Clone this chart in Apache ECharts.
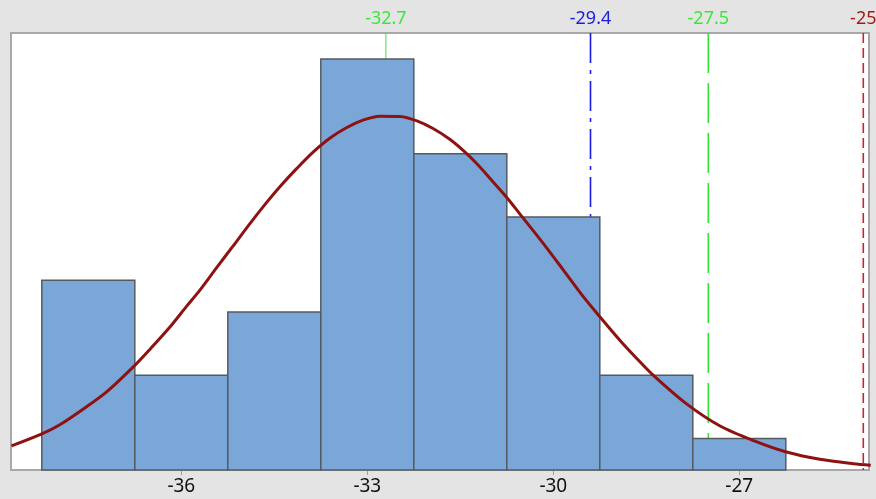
<!DOCTYPE html>
<html>
<head>
<meta charset="utf-8">
<script src="https://cdn.jsdelivr.net/npm/echarts@6/dist/echarts.min.js"></script>
<style>
html,body{margin:0;padding:0;background:#e4e4e4;}
#chart{width:876px;height:499px;}
</style>
</head>
<body>
<div id="chart"></div>
<script>
// Histogram bins (edges) and counts
const binEdges = [-38.25, -36.75, -35.25, -33.75, -32.25, -30.75, -29.25, -27.75, -26.25];
const counts = [6, 3, 5, 13, 10, 8, 3, 1];

// Fitted curve
const curveX = [-38.74, -38.25, -37.96, -37.58, -37.20, -36.75, -36.50, -36.18, -35.91, -35.70, -35.43, -35.17, -34.89, -34.62, -34.41, -34.14, -33.87, -33.60, -33.33, -33.06, -32.80, -32.47, -32.20, -31.94, -31.67, -31.45, -31.24, -31.02, -30.75, -30.54, -30.16, -29.84, -29.52, -29.25, -28.92, -28.65, -28.39, -27.85, -27.31, -26.77, -26.24, -25.70, -25.16, -24.88];
const curveY = [0.76, 1.14, 1.43, 1.93, 2.48, 3.31, 3.83, 4.53, 5.19, 5.69, 6.40, 7.07, 7.80, 8.47, 8.96, 9.53, 10.06, 10.50, 10.83, 11.07, 11.19, 11.18, 11.04, 10.80, 10.46, 10.10, 9.70, 9.22, 8.62, 8.10, 7.16, 6.33, 5.49, 4.85, 4.09, 3.52, 3.00, 2.09, 1.39, 0.93, 0.57, 0.34, 0.20, 0.15];

// Reference lines
const refValues = [-32.7, -29.4, -27.5, -25];
const refLabels = ['-32.7', '-29.4', '-27.5', '-25'];

// X tick labels
const tickValues = [-36, -33, -30, -27];

const refStyles = [
  {color: '#3be63b', labelColor: '#3be63b', dash: null, width: 1},
  {color: '#1c1ce0', labelColor: '#1c1ce0', dash: [30, 7, 4, 7], width: 1.6},
  {color: '#33e633', labelColor: '#3be63b', dash: [40, 10], width: 1.6},
  {color: '#cc2230', labelColor: '#9e1a1a', dash: [10, 5], width: 1.6}
];

const histData = counts.map((c, i) => [binEdges[i], binEdges[i + 1], c]);
const curveData = curveX.map((x, i) => [x, curveY[i]]);
const refData = refValues.map((v, i) => [v, i]);
const Y_MAX = 13.82;

const chart = echarts.init(document.getElementById('chart'));
chart.setOption({
  animation: false,
  backgroundColor: '#e4e4e4',
  textStyle: {fontFamily: 'Noto Sans'},
  grid: {left: 11, right: 7, top: 33, bottom: 29, show: true, backgroundColor: '#ffffff', borderColor: '#a8a8a8', borderWidth: 2},
  xAxis: {
    type: 'value', min: -38.747, max: -24.908,
    axisLine: {show: true, lineStyle: {color: '#a8a8a8', width: 2}},
    axisTick: {show: true, customValues: tickValues, length: 5, lineStyle: {color: '#a0a0a0', width: 1}},
    axisLabel: {customValues: tickValues, color: '#111', fontSize: 19, margin: 7, fontFamily: 'Noto Sans'},
    splitLine: {show: false}
  },
  yAxis: {
    type: 'value', min: 0, max: Y_MAX, show: false, splitLine: {show: false}
  },
  series: [
    {
      type: 'custom', z: 1, data: refData, silent: true, clip: false,
      encode: {x: 0},
      renderItem: function (params, api) {
        const v = api.value(0);
        const s = refStyles[params.dataIndex];
        const top = api.coord([v, Y_MAX]);
        const bot = api.coord([v, 0]);
        return {
          type: 'group',
          children: [
            {
              type: 'line',
              shape: {x1: top[0], y1: top[1], x2: bot[0], y2: bot[1]},
              style: {stroke: s.color, lineWidth: s.width, lineDash: s.dash}
            },
            {
              type: 'text',
              style: {
                text: refLabels[params.dataIndex], x: top[0], y: top[1] - 14,
                align: 'center', verticalAlign: 'middle',
                fill: s.labelColor, font: '18px "Noto Sans"'
              }
            }
          ]
        };
      }
    },
    {
      type: 'custom', z: 2, data: histData, silent: true,
      encode: {x: [0, 1], y: 2},
      renderItem: function (params, api) {
        const p0 = api.coord([api.value(0), api.value(2)]);
        const p1 = api.coord([api.value(1), 0]);
        return {
          type: 'rect',
          shape: {x: p0[0], y: p0[1], width: p1[0] - p0[0], height: p1[1] - p0[1]},
          style: {fill: '#7ba7d8', stroke: '#555a60', lineWidth: 1.5}
        };
      }
    },
    {
      type: 'line', z: 3, data: curveData, showSymbol: false, smooth: 0.3, silent: true,
      lineStyle: {color: '#8e1212', width: 3}
    }
  ]
});
</script>
</body>
</html>
